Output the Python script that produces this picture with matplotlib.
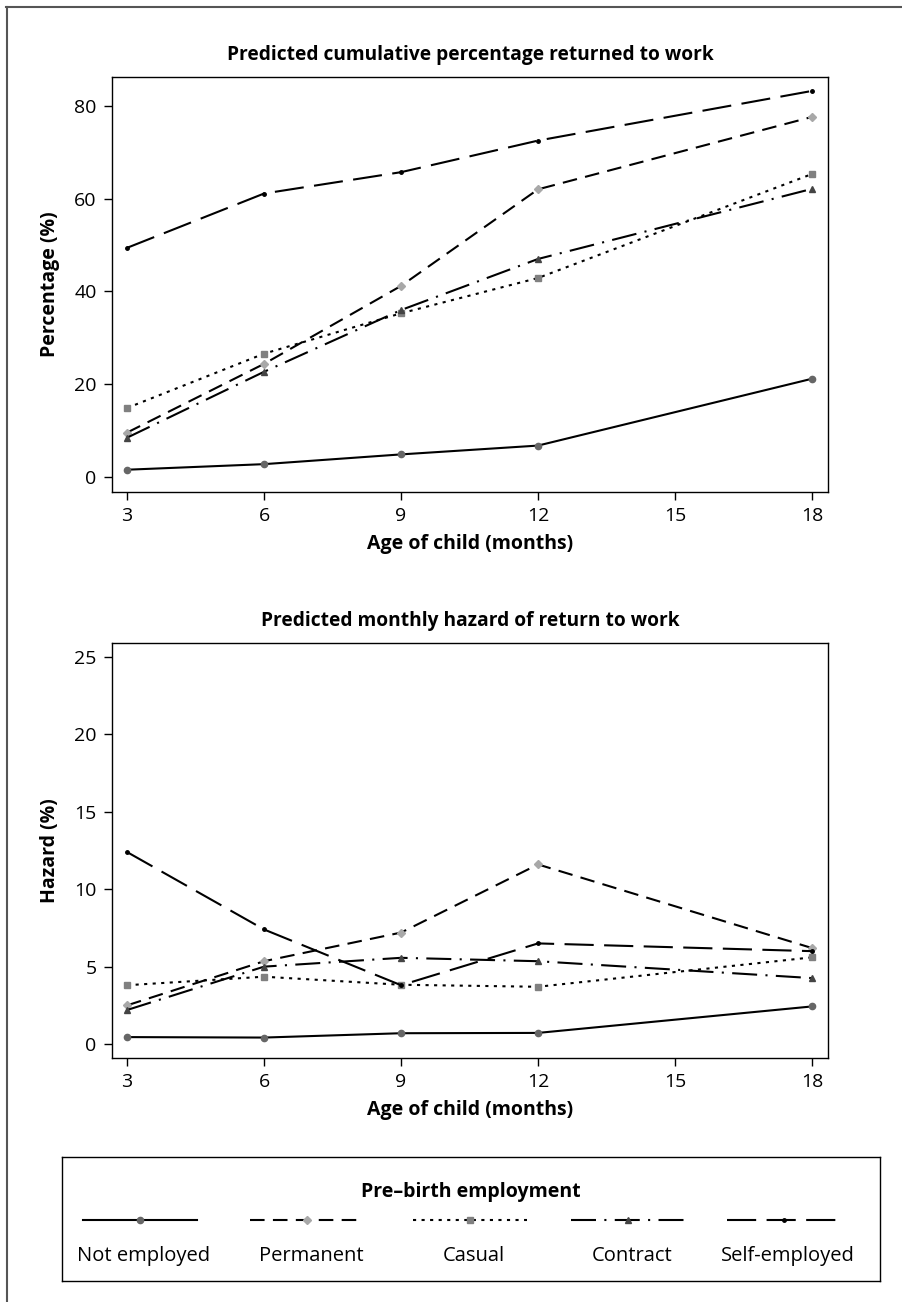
import numpy as np
import matplotlib
matplotlib.use("Agg")
import matplotlib.pyplot as plt
from matplotlib.lines import Line2D

plt.rcParams['font.family'] = ['Open Sans', 'DejaVu Sans']

# data
months = [3, 6, 9, 12, 18]
groups = ["Not employed", "Permanent", "Casual", "Contract", "Self-employed"]

cum_not = [1.6, 2.8, 4.9, 6.8, 21.2]
cum_perm = [9.6, 24.4, 41.2, 62.0, 77.6]
cum_cas = [14.9, 26.6, 35.3, 42.9, 65.3]
cum_con = [8.5, 22.7, 36.0, 47.0, 62.1]
cum_self = [49.4, 61.1, 65.7, 72.5, 83.2]

haz_not = [0.45, 0.42, 0.70, 0.72, 2.43]
haz_perm = [2.5, 5.35, 7.2, 11.6, 6.2]
haz_cas = [3.8, 4.35, 3.83, 3.7, 5.6]
haz_con = [2.2, 5.0, 5.57, 5.35, 4.26]
haz_self = [12.4, 7.4, 3.8, 6.5, 6.0]

xticks = [3, 6, 9, 12, 15, 18]

# line styles for each group
styles = [
    dict(linestyle='-', marker='o', markersize=4.5, mfc='#666666', mec='#666666'),
    dict(linestyle=(0, (7, 4)), marker='D', markersize=4.5, mfc='#a8a8a8', mec='#a8a8a8'),
    dict(linestyle=(0, (1.5, 2.6)), marker='s', markersize=4.5, mfc='#808080', mec='#808080'),
    dict(linestyle=(0, (12, 4, 1, 4)), marker='^', markersize=5, mfc='#444444', mec='#444444'),
    dict(linestyle=(0, (14, 5)), marker='o', markersize=2.5, mfc='black', mec='black'),
]

W, H = 902, 1302
fig = plt.figure(figsize=(W / 100, H / 100), dpi=100)


def px_axes(l, t, r, b):
    return fig.add_axes([l / W, 1 - b / H, (r - l) / W, (b - t) / H])


def style_ax(ax, title, ylabel, ylim, yticks):
    ax.set_xlim(2.67, 18.35)
    ax.set_ylim(*ylim)
    ax.set_xticks(xticks)
    ax.set_yticks(yticks)
    ax.tick_params(direction='out', length=6, width=1, labelsize=14, pad=5)
    ax.set_title(title, fontsize=13.8, fontweight='bold', pad=12)
    ax.set_xlabel("Age of child (months)", fontsize=14, fontweight='bold', labelpad=6)
    ax.set_ylabel(ylabel, fontsize=14, fontweight='bold', labelpad=10)
    for s in ax.spines.values():
        s.set_linewidth(1)


ax1 = px_axes(112, 77, 828, 492)
for vals, st in zip([cum_not, cum_perm, cum_cas, cum_con, cum_self], styles):
    ax1.plot(months, vals, color='black', linewidth=1.5, **st)
style_ax(ax1, "Predicted cumulative percentage returned to work", "Percentage (%)",
         (-3.2, 86.2), [0, 20, 40, 60, 80])

ax2 = px_axes(112, 643, 828, 1058)
for vals, st in zip([haz_not, haz_perm, haz_cas, haz_con, haz_self], styles):
    ax2.plot(months, vals, color='black', linewidth=1.5, **st)
style_ax(ax2, "Predicted monthly hazard of return to work", "Hazard (%)",
         (-0.9, 25.9), [0, 5, 10, 15, 20, 25])

# legend box drawn by hand (labels sit under the line samples)
lg = px_axes(62, 1157, 880, 1281)
lg.set_xlim(62, 880)
lg.set_ylim(0, 1)
lg.set_xticks([])
lg.set_yticks([])
for s in lg.spines.values():
    s.set_linewidth(1)
lg.text(471, 0.72, "Pre\u2013birth employment", ha='center', va='center',
        fontsize=14, fontweight='bold')
centers = [140, 307, 470, 628, 784]
for c, name, st in zip(centers, groups, styles):
    lg.plot([c - 57, c + 57], [0.49, 0.49], color='black', linewidth=1.5,
            linestyle=st['linestyle'])
    lg.plot([c], [0.49], linestyle='none', marker=st['marker'],
            markersize=st['markersize'], mfc=st['mfc'], mec=st['mec'])
    lg.text(c + 4, 0.20, name, ha='center', va='center', fontsize=14.5)

# outer frame lines (top and left)
fig.add_artist(Line2D([6 / W, 1], [1 - 7 / H, 1 - 7 / H], color='#555555', linewidth=1.5))
fig.add_artist(Line2D([7 / W, 7 / W], [1 - 7 / H, 0], color='#555555', linewidth=1.5))

fig.savefig("out.png", dpi=100)
